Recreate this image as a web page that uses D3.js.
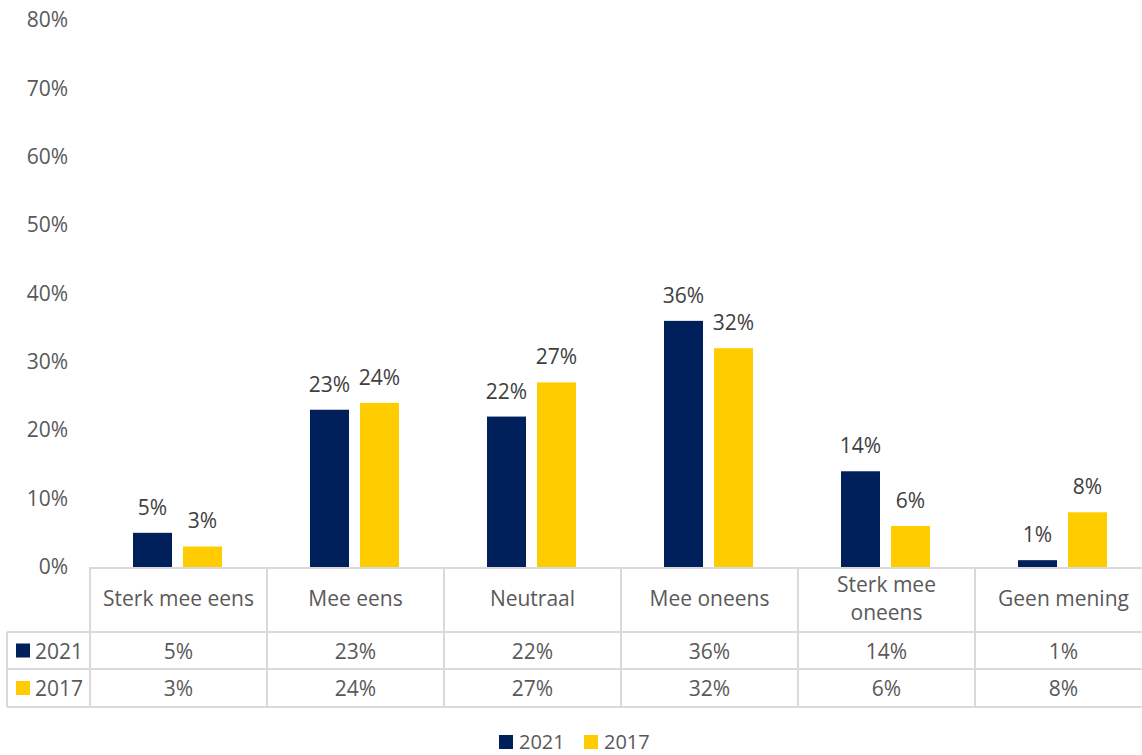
<!DOCTYPE html>
<html>
<head>
<meta charset="utf-8">
<script src="https://cdn.jsdelivr.net/npm/d3@7"></script>
<style>
  body { margin: 0; background: #fff; overflow: hidden; }
  svg text { font-family: "Open Sans", Lato, sans-serif; }
</style>
</head>
<body>
<div id="chart"></div>
<script>
// data
const categories = ["Sterk mee eens", "Mee eens", "Neutraal", "Mee oneens", "Sterk mee oneens", "Geen mening"];
const seriesNames = ["2021", "2017"];
const values2021 = [5, 23, 22, 36, 14, 1];
const values2017 = [3, 24, 27, 32, 6, 8];
const yTicks = [0, 10, 20, 30, 40, 50, 60, 70, 80];
const colors = ["#00205B", "#FFCC00"];

const width = 1142, height = 755;
// the last column runs past the right edge of the picture in the original
const plotLeft = 90, plotRight = 1152, plotTop = 20, plotBottom = 567;
const fs = 21;

const svg = d3.select("#chart").append("svg")
  .attr("width", width)
  .attr("height", height);

const x = d3.scaleBand().domain(categories).range([plotLeft, plotRight]);
// bars sit in the middle of each category, small gap between the two years
const inner = d3.scaleBand().domain(seriesNames).range([43, 132]).paddingInner(0.22);
const y = d3.scaleLinear().domain([0, 80]).range([plotBottom, plotTop]);

const series = [values2021, values2017];

// y axis labels
const yAxis = d3.axisLeft(y).tickValues(yTicks).tickFormat(d => d + "%").tickSize(0).tickPadding(0);
const yG = svg.append("g").attr("transform", "translate(68,0)").call(yAxis);
yG.select(".domain").remove();
yG.selectAll("text").attr("font-size", fs).attr("fill", "#595959")
  .attr("font-family", "'Open Sans', Lato, sans-serif");

// bars
series.forEach((vals, si) => {
  const g = svg.append("g");
  g.selectAll("rect").data(vals).enter().append("rect")
    .attr("x", (d, i) => x(categories[i]) + inner(seriesNames[si]))
    .attr("y", d => y(d))
    .attr("width", inner.bandwidth())
    .attr("height", d => y(0) - y(d))
    .attr("fill", colors[si]);
  g.selectAll("text").data(vals).enter().append("text")
    .attr("x", (d, i) => x(categories[i]) + inner(seriesNames[si]) + inner.bandwidth() / 2)
    .attr("y", d => y(d) - 18)
    .attr("text-anchor", "middle")
    .attr("font-size", fs)
    .attr("fill", "#404040")
    .text(d => d + "%");
});

// data table
const lineColor = "#D9D9D9";
const headerBottom = 632, row1Bottom = 669, row2Bottom = 707, tableLeft = 7;
const table = svg.append("g").attr("stroke", lineColor).attr("stroke-width", 2);
table.append("line").attr("x1", plotLeft).attr("x2", plotRight).attr("y1", plotBottom + 1).attr("y2", plotBottom + 1);
[headerBottom, row1Bottom, row2Bottom].forEach(yy => {
  table.append("line").attr("x1", tableLeft).attr("x2", plotRight).attr("y1", yy).attr("y2", yy);
});
table.append("line").attr("x1", tableLeft).attr("x2", tableLeft).attr("y1", headerBottom).attr("y2", row2Bottom);
categories.forEach(c => {
  table.append("line").attr("x1", x(c)).attr("x2", x(c)).attr("y1", plotBottom).attr("y2", row2Bottom);
});

// header labels (wrap where the reference wraps)
const headerLines = {"Sterk mee oneens": ["Sterk mee", "oneens"]};
categories.forEach(c => {
  const lines = headerLines[c] || [c];
  const t = svg.append("text")
    .attr("text-anchor", "middle")
    .attr("font-size", fs)
    .attr("fill", "#595959");
  lines.forEach((ln, i) => {
    t.append("tspan")
      .attr("x", x(c) + x.bandwidth() / 2)
      .attr("y", 606 + (i - (lines.length - 1) / 2) * 28)
      .text(ln);
  });
});

// table rows
const rowMid = [(headerBottom + row1Bottom) / 2, (row1Bottom + row2Bottom) / 2];
series.forEach((vals, si) => {
  svg.append("rect").attr("x", 16).attr("y", rowMid[si] - 7).attr("width", 14).attr("height", 14).attr("fill", colors[si]);
  svg.append("text").attr("x", 35).attr("y", rowMid[si] + 8)
    .attr("font-size", fs).attr("fill", "#595959").text(seriesNames[si]);
  vals.forEach((v, i) => {
    svg.append("text")
      .attr("x", x(categories[i]) + x.bandwidth() / 2)
      .attr("y", rowMid[si] + 8)
      .attr("text-anchor", "middle")
      .attr("font-size", fs)
      .attr("fill", "#595959")
      .text(v + "%");
  });
});

// legend
const legendX = [499, 584];
seriesNames.forEach((s, si) => {
  svg.append("rect").attr("x", legendX[si]).attr("y", 735).attr("width", 14).attr("height", 14).attr("fill", colors[si]);
  svg.append("text").attr("x", legendX[si] + 20).attr("y", 749)
    .attr("font-size", 20).attr("fill", "#595959").text(s);
});
</script>
</body>
</html>
